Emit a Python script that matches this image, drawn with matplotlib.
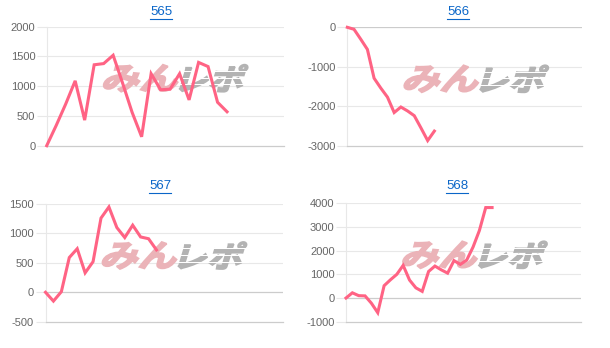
import matplotlib
matplotlib.use("Agg")
import matplotlib.pyplot as plt
from matplotlib.textpath import TextPath
from matplotlib.font_manager import FontProperties
from matplotlib.patches import PathPatch, Rectangle
from matplotlib.transforms import Affine2D, IdentityTransform
from matplotlib.lines import Line2D

# ---------------- data ----------------
titles = ["565", "566", "567", "568"]
s565 = [0, 340, 700, 1090, 430, 1360, 1380, 1520, 1050, 560, 150, 1210, 940, 950, 1210, 770, 1400, 1330, 730, 570]
s566 = [0, -50, -300, -560, -1290, -1540, -1770, -2160, -2020, -2120, -2240, -2550, -2870, -2630]
s567 = [0, -150, 10, 590, 740, 330, 520, 1260, 1450, 1100, 930, 1140, 940, 910, 720]
s568 = [0, 220, 100, 90, -220, -620, 520, 770, 1000, 1380, 760, 430, 280, 1120, 1350, 1190, 1050, 1580, 1420, 1600, 2150, 2850, 3820, 3820]
series = [s565, s566, s567, s568]
xmax = [25, 35, 30, 37]
yticks = [[0, 500, 1000, 1500, 2000],
          [-3000, -2000, -1000, 0],
          [-500, 0, 500, 1000, 1500],
          [-1000, 0, 1000, 2000, 3000, 4000]]

# ---------------- layout (pixels) ----------------
W, H = 610, 348
DPI = 100
fig = plt.figure(figsize=(W / DPI, H / DPI), dpi=DPI)
fig.patch.set_facecolor("white")

# (left, right, top, bottom) in pixel coords from top-left
boxes = [(46.7, 284.0, 26.7, 145.7),
         (347.3, 581.7, 27.3, 145.7),
         (45.5, 283.3, 204.0, 321.7),
         (346.0, 581.0, 203.3, 321.7)]
title_pos = [(161, 12), (458, 12), (160, 186), (457, 186)]

LINE_C = "#ff6384"
GRID_C = "#e8e8e8"
ZERO_C = "#cccccc"
TICK_C = "#666666"
TITLE_C = "#0a66c8"

cjk = FontProperties(family="Noto Sans CJK JP", weight="bold")


def add_logo_part(ax, text, color, x0, x1, ytop, ybot, stripes=0):
    tp = TextPath((0, 0), text, size=40, prop=cjk)
    sk = Affine2D().skew_deg(14, 0)
    p = sk.transform_path(tp)
    ext = p.get_extents()
    sx = (x1 - x0) / ext.width
    sy = (ybot - ytop) / ext.height
    tr = (Affine2D().translate(-ext.x0, -ext.y0).scale(sx, sy)
          .translate(x0, H - ybot))
    p2 = tr.transform_path(p)
    ax.add_patch(PathPatch(p2, transform=IdentityTransform(), facecolor=color,
                           edgecolor=color, linewidth=1.3, joinstyle="miter",
                           zorder=1, clip_on=False))
    hgt = ybot - ytop
    for k in range(stripes):
        yy = H - ybot + hgt * (k + 1) / (stripes + 1)
        ax.add_patch(Rectangle((x0 - 2, yy - 0.5), x1 - x0 + 4, 1.0,
                               transform=IdentityTransform(), facecolor="white",
                               edgecolor="none", zorder=1.2, clip_on=False))


for i, (l, r, t, b) in enumerate(boxes):
    ax = fig.add_axes([l / W, 1 - b / H, (r - l) / W, (b - t) / H])
    ys = series[i]
    xs = list(range(len(ys)))
    ax.plot(xs, ys, color=LINE_C, lw=2.2, solid_joinstyle="miter", zorder=3,
            clip_on=False)
    ax.set_xlim(0, xmax[i])
    ax.set_ylim(yticks[i][0], yticks[i][-1])
    ax.set_yticks(yticks[i])
    ax.set_yticklabels([str(v) for v in yticks[i]])
    ax.set_xticks([])
    for s in ["top", "right"]:
        ax.spines[s].set_visible(False)
    ax.spines["left"].set_color(GRID_C)
    ax.spines["left"].set_linewidth(0.8)
    ax.spines["bottom"].set_color(ZERO_C)
    ax.spines["bottom"].set_linewidth(0.9)
    ax.tick_params(axis="y", length=7.2, width=0.8, color=GRID_C, pad=1,
                   labelsize=8, labelcolor=TICK_C)
    for lab in ax.get_yticklabels():
        lab.set_family(["Liberation Sans", "DejaVu Sans"])
    for v, tk in zip(yticks[i], ax.yaxis.get_major_ticks()):
        if v == 0 or v == yticks[i][0]:
            tk.tick1line.set_color(ZERO_C)
        if v == yticks[i][0]:
            continue
        ax.axhline(v, color=ZERO_C if v == 0 else GRID_C,
                   lw=0.9 if v == 0 else 0.8, zorder=0.5)
    # watermark logo
    add_logo_part(ax, "みん", "#ebb3b8", l + 57, l + 131, t + 38, t + 65)
    add_logo_part(ax, "レポ", "#b3b3b3", l + 133, l + 201, t + 38, t + 65,
                  stripes=3)

# titles with underline
fig.canvas.draw()
renderer = fig.canvas.get_renderer()
for (cx, cy), tt in zip(title_pos, titles):
    txt = fig.text(cx / W, 1 - cy / H, tt, ha="center", va="center",
                   fontsize=9.5, color=TITLE_C,
                   family=["Liberation Sans", "DejaVu Sans"])
    bb = txt.get_window_extent(renderer)
    uy = 1 - (cy + 7) / H
    fig.add_artist(Line2D([bb.x0 / W, bb.x1 / W], [uy, uy], color=TITLE_C,
                          lw=0.8, transform=fig.transFigure))

fig.savefig("out.png", dpi=DPI, facecolor="white")
